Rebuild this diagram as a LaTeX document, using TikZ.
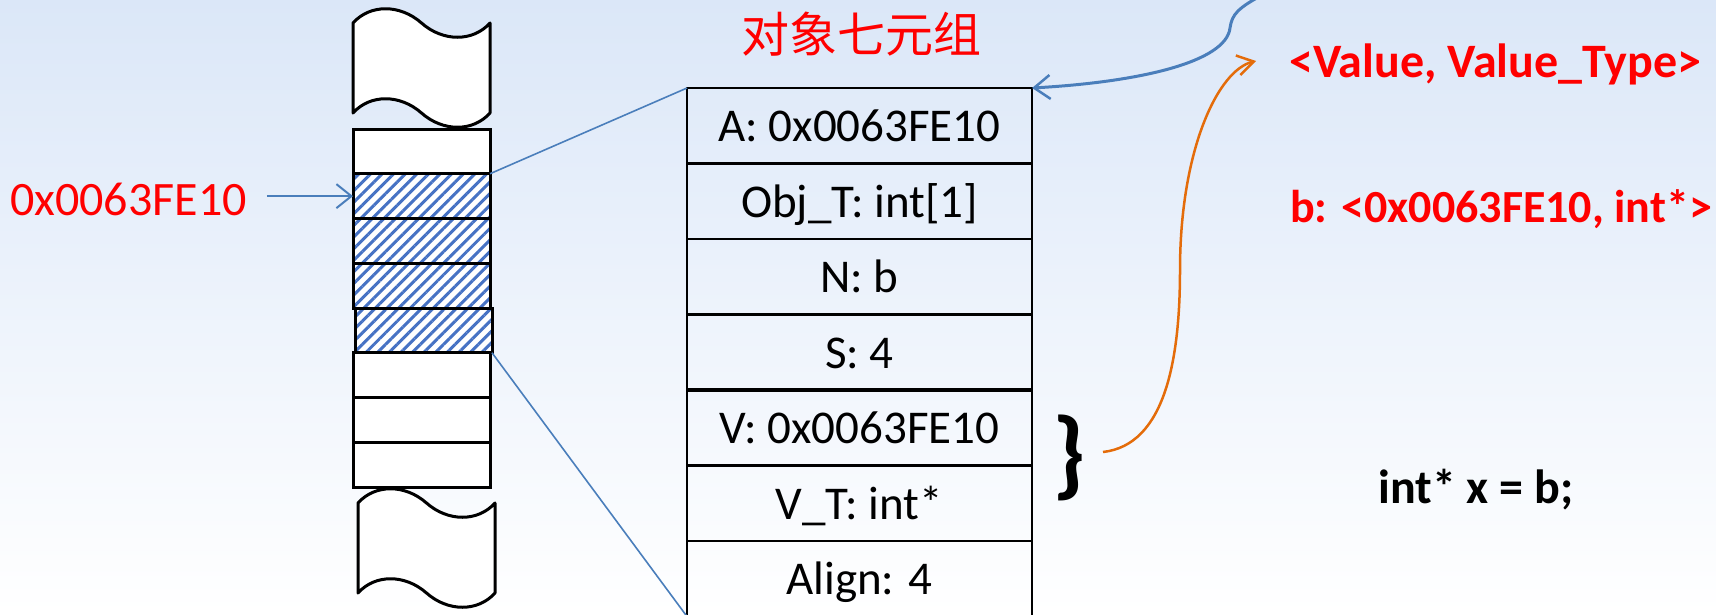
\documentclass[tikz,border=0pt]{standalone}
\usepackage{fontspec}
\setmainfont{Carlito}
\newfontfamily\cjkfont{Noto Sans CJK SC}
\usetikzlibrary{arrows.meta,patterns.meta}
\definecolor{bgtop}{RGB}{219,231,248}
\definecolor{lnblue}{RGB}{74,126,187}
\definecolor{hatchblue}{RGB}{70,114,196}
\definecolor{lnorange}{RGB}{228,108,10}
\definecolor{txtred}{RGB}{255,0,0}
\tikzset{
  memline/.style={draw=black,line width=3pt},
  cellbase/.style={memline,minimum width=137pt,minimum height=44.75pt,inner sep=0pt,outer sep=0pt},
  cell/.style={cellbase,fill=white},
  hatched/.style={cellbase,preaction={fill=white},pattern={Lines[angle=45,distance=8.2pt,line width=3pt]},pattern color=hatchblue},
  tabrow/.style={draw=black,line width=2.5pt,minimum width=345pt,minimum height=75.5pt,inner sep=0pt,outer sep=0pt,text height=40pt,text depth=8pt,font=\fontsize{47}{56}\selectfont},
  redbold/.style={text=txtred,inner sep=0pt,font=\fontsize{48}{56}\selectfont\bfseries},
  blkbold/.style={text=black,inner sep=0pt,font=\fontsize{48}{56}\selectfont\bfseries},
  conn/.style={draw=lnblue,line width=1.6pt},
  tape/.pic={
    \draw[memline,fill=white,line join=round] (0,0) .. controls (17,-19) and (47,-19) .. (68.5,0)
      .. controls (90,19) and (120,19) .. (137,0) -- (137,90)
      .. controls (120,109) and (90,109) .. (68.5,90)
      .. controls (47,71) and (17,71) .. (0,90) -- cycle;
  }
}
\begin{document}
\begin{tikzpicture}[x=1pt,y=-1pt]
\useasboundingbox (0,0) rectangle (1716,614);
\shade[top color=bgtop,bottom color=white] (0,0) rectangle (1716,614);
\clip (0,0) rectangle (1716,614);

% title
\node[text=txtred,inner sep=0pt,font=\cjkfont\fontsize{48}{52}\selectfont] (title) at (861,34) {对象七元组};

% memory column
\pic at (353,23) {tape};
\node[cell] (m1) at (421.5,151.375) {};
\node[hatched] (m2) at (421.5,196.125) {};
\node[hatched] (m3) at (421.5,240.875) {};
\node[hatched] (m4) at (421.5,285.625) {};
\node[hatched] (m5) at (423.5,330.375) {};
\node[cell] (m6) at (421.5,375.125) {};
\node[cell] (m7) at (421.5,419.875) {};
\node[cell] (m8) at (421.5,464.625) {};
\pic at (358,503) {tape};

% address label
\node[text=txtred,inner sep=0pt,anchor=base west,font=\fontsize{48}{56}\selectfont] (addr) at (10,215) {0x0063FE10};
\draw[conn,line width=2pt,shorten <=20pt,-{Straight Barb[length=15pt,width=24pt,line width=2pt]}] (addr.east |- m2.west) -- (m2.west);

% object table
\node[tabrow] (r1) at (859.5,125.75) {A: 0x0063FE10};
\node[tabrow] (r2) at (859.5,201.25) {Obj\_T: int[1]};
\node[tabrow] (r3) at (859.5,276.75) {N: b};
\node[tabrow] (r4) at (859.5,352.25) {S: 4};
\node[tabrow] (r5) at (859.5,427.75) {V: 0x0063FE10};
\node[tabrow] (r6) at (859.5,503.25) {V\_T: int*};
\node[tabrow] (r7) at (859.5,578.75) {Align: 4};
\draw[black,line width=3.5pt] (r4.south west) -- (r4.south east);

% connectors memory -> table
\draw[conn] (m2.north east) -- (r1.north west);
\draw[conn] (m5.south east) -- (r7.south west);

% brace
\node[inner sep=0pt,font=\fontsize{98}{98}\selectfont\bfseries] (brace) at (1069,458) {\}};

% right texts
\node[redbold,anchor=base west] (vt) at (1289,77) {<Value, Value\_Type>};
\node[redbold,anchor=base east,font=\fontsize{46}{56}\selectfont\bfseries] (bv) at (1712,222) {b: <0x0063FE10, int*>};
\node[blkbold,anchor=base west] (code) at (1378,503) {int* x = b;};

% curves
\coordinate (ctop) at (1264,-6);
\draw[draw=lnblue,line width=3pt,-{Straight Barb[length=16pt,width=24pt,line width=2.5pt]}]
  (ctop) .. controls (1238,8) and (1232,14) .. (1230,28)
  .. controls (1226,62) and (1140,82) .. (r1.north east);

\coordinate (obeg) at (1103,452);
\coordinate (otip) at (1256,61);
\draw[draw=lnorange,line width=2.5pt,-{Straight Barb[length=16pt,width=20pt,line width=2.5pt]}]
  (obeg) .. controls (1165,445) and (1180,360) .. (1180,270)
  .. controls (1180,150) and (1218,70) .. (otip);
\end{tikzpicture}
\end{document}
